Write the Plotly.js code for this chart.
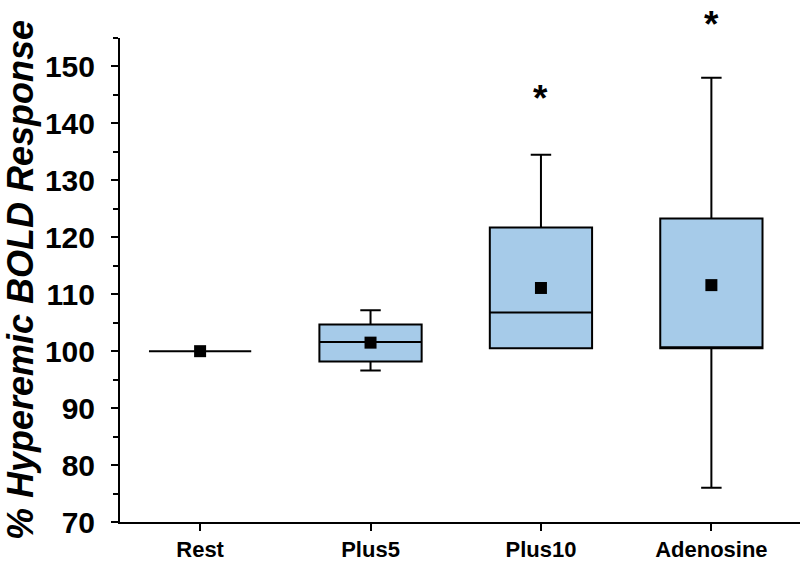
<!DOCTYPE html>
<html>
<head>
<meta charset="utf-8">
<script src="https://cdn.plot.ly/plotly-3.0.1.min.js"></script>
<style>
  body { margin: 0; background: #fff; }
  #chart { width: 800px; height: 562px; }
</style>
</head>
<body>
<div id="chart"></div>
<script>
  var config = {
    displayModeBar: false,
    staticPlot: true
  };

  // box statistics
  var groups = ['Rest', 'Plus5', 'Plus10', 'Adenosine'];
  var q1 = [100, 98.2, 100.5, 100.5];
  var medians = [100, 101.6, 106.8, 100.5];
  var q3 = [100, 104.7, 121.7, 123.3];
  var lowerWhisker = [100, 96.6, 100.5, 76];
  var upperWhisker = [100, 107.2, 134.5, 148];
  var means = [100, 101.5, 111.1, 111.6];

  // significance marks (y in axis units, the second one is above the axis)
  var starGroups = ['Plus10', 'Adenosine'];
  var starY = [144.3, 157.4];

  var yMin = 70, yMax = 155;
  var font = 'Liberation Sans, Arial, sans-serif';

  var boxTrace = {
    type: 'box',
    x: groups,
    q1: q1,
    median: medians,
    q3: q3,
    lowerfence: lowerWhisker,
    upperfence: upperWhisker,
    width: 0.6,
    whiskerwidth: 0.2,
    fillcolor: '#a6cbe9',
    line: { color: '#000', width: 2 },
    boxpoints: false,
    hoverinfo: 'skip'
  };

  var meanTrace = {
    type: 'scatter',
    mode: 'markers',
    x: groups,
    y: means,
    marker: { symbol: 'square', size: 12, color: '#000' },
    hoverinfo: 'skip'
  };

  // paper coords so the star above the range is still drawn
  var annotations = starGroups.map(function(g, i) {
    return {
      x: g, xref: 'x',
      y: (starY[i] - yMin) / (yMax - yMin), yref: 'paper',
      yanchor: 'middle',
      text: '*', showarrow: false,
      font: { family: font, size: 37, color: '#000', weight: 'bold' }
    };
  });

  var layout = {
    width: 800,
    height: 562,
    margin: { l: 120, r: 0, t: 38, b: 40 },
    paper_bgcolor: '#fff',
    plot_bgcolor: '#fff',
    showlegend: false,
    font: { family: font, color: '#000' },
    xaxis: {
      type: 'category',
      range: [-0.47, 3.52],
      showgrid: false,
      zeroline: false,
      showline: true,
      linecolor: '#000',
      linewidth: 2,
      ticks: 'outside',
      ticklen: 7,
      tickwidth: 2,
      tickcolor: '#000',
      tickfont: { family: font, size: 22, weight: 'bold', color: '#000' }
    },
    yaxis: {
      range: [yMin, yMax],
      tickvals: [70, 80, 90, 100, 110, 120, 130, 140, 150],
      showgrid: false,
      zeroline: false,
      showline: true,
      linecolor: '#000',
      linewidth: 2,
      ticks: 'outside',
      ticklen: 7,
      tickwidth: 2,
      tickcolor: '#000',
      ticklabelstandoff: 10,
      minor: { dtick: 5, ticks: 'outside', ticklen: 5, tickwidth: 2, tickcolor: '#000' },
      tickfont: { family: font, size: 30, weight: 'bold', color: '#000' },
      title: {
        text: '% Hyperemic BOLD Response',
        standoff: 4,
        font: { family: font, size: 36, weight: 'bold', style: 'italic', color: '#000' }
      }
    },
    annotations: annotations
  };

  Plotly.newPlot('chart', [boxTrace, meanTrace], layout, config);
</script>
</body>
</html>
